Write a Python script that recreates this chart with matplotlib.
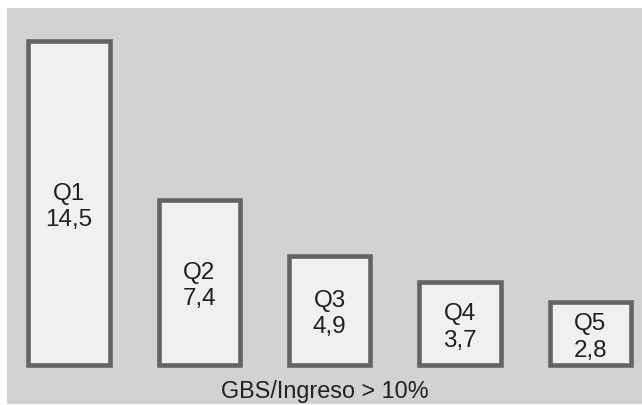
import matplotlib
matplotlib.use('Agg')
import matplotlib.pyplot as plt

# data
quintiles = ['Q1', 'Q2', 'Q3', 'Q4', 'Q5']
values = [14.5, 7.4, 4.9, 3.7, 2.8]
value_labels = ['14,5', '7,4', '4,9', '3,7', '2,8']
caption = 'GBS/Ingreso > 10%'

bg = '#d1d2d4'
fill = '#eff0f2'
edge = '#636466'
txt = '#231f20'

plt.rcParams['font.family'] = ['Liberation Sans', 'DejaVu Sans']

W, H = 642, 406
fig = plt.figure(figsize=(W/100, H/100), dpi=100, facecolor='white')
ax = fig.add_axes([7/W, 1/H, (W-7)/W, (405-9)/H])
ax.set_facecolor(bg)

x = list(range(len(quintiles)))
bars = ax.bar(x, values, width=0.625, color=fill, edgecolor=edge, linewidth=3.3)
for b in bars:
    b.set_joinstyle('miter')

# labels sit in the middle of each bar, nudged a touch down
for xi, q, v, lab in zip(x, quintiles, values, value_labels):
    ax.text(xi, v/2 - 0.13, q + '\n' + lab, ha='center', va='center', fontsize=17.5,
            color=txt, linespacing=1.25)

ax.text(0.5, 0.035, caption, transform=ax.transAxes, ha='center', va='center',
        fontsize=16.8, color=txt)

ax.set_xlim(-0.475, 4.395)
ax.set_ylim(-1.76, 16.0)
ax.set_xticks([])
ax.set_yticks([])
for s in ax.spines.values():
    s.set_visible(False)

fig.savefig('out.png', dpi=100, facecolor='white')
